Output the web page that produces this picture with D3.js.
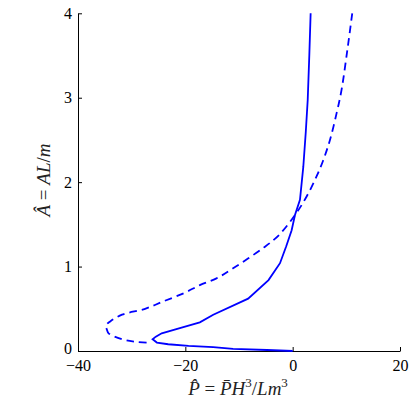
<!DOCTYPE html>
<html><head><meta charset="utf-8">
<script src="https://cdn.jsdelivr.net/npm/d3@7"></script>
</head><body style="margin:0">
<svg id="c" width="415" height="415" font-family="Liberation Serif"></svg>
<script>
// Data: [P, A]
const solidP = [0,-4.8,-11.1,-14.8,-19.4,-23.2,-25.3,-26.1,-25.5,-24.4,-20.7,-17.3,-14.8,-8.3,-4.5,-2.36,-1.2,-0.19,0.43,1.36,1.98,2.45,2.8,3.1,3.35];
const solidA = [0,0.012,0.024,0.045,0.06,0.08,0.1,0.14,0.17,0.21,0.276,0.34,0.43,0.62,0.84,1.04,1.24,1.43,1.61,1.79,2.18,2.6,2.97,3.5,4];
const dashedP = [11.1,10.2,9.1,8.2,6.95,5.7,4.47,2.6,0.43,-2.6,-5.5,-11.1,-14.2,-17.3,-20.1,-24,-27.5,-31.8,-34.0,-34.8,-34.6,-34.3,-31.8,-29.4,-27.2];
const dashedA = [4,3.57,3.09,2.82,2.5,2.26,2.07,1.83,1.61,1.37,1.22,0.98,0.86,0.78,0.69,0.59,0.5,0.43,0.35,0.3,0.25,0.21,0.14,0.11,0.098];
const xTicks = [-40,-20,0,20];
const yTicks = [0,1,2,3,4];

const svg = d3.select("#c");
const L = 78, R = 400, T = 13.3, B = 351;
const x = d3.scaleLinear().domain([-40,20]).range([L,R]);
const y = d3.scaleLinear().domain([0,4]).range([B,T]);

const FF = "Liberation Serif";

// axes
const gx = svg.append("g").attr("transform",`translate(0,${B})`)
  .call(d3.axisBottom(x).tickValues(xTicks).tickSizeInner(-4).tickSizeOuter(0).tickPadding(9)
    .tickFormat(d => d < 0 ? "\u2212" + Math.abs(d) : String(d)));
const gy = svg.append("g").attr("transform",`translate(${L},0)`)
  .call(d3.axisLeft(y).tickValues(yTicks).tickFormat(d3.format("d")).tickSizeInner(-4).tickSizeOuter(0).tickPadding(6));
[gx,gy].forEach(g => {
  g.attr("font-family", FF).attr("font-size", 16);
  g.select(".domain").attr("stroke","#000").attr("stroke-width",1);
  g.selectAll(".tick line").attr("stroke","#000");
  g.selectAll("text").attr("fill","#000");
});
gx.selectAll(".tick text").attr("dy","0.71em");
gy.selectAll(".tick text").filter(d => d === 0).attr("dy","0.15em");

const solid = solidP.map((p,i)=>[p,solidA[i]]);
const dashed = dashedP.map((p,i)=>[p,dashedA[i]]);

svg.append("path").datum(solid)
  .attr("d", d3.line().x(d=>x(d[0])).y(d=>y(d[1])))
  .attr("fill","none").attr("stroke","#0000ff").attr("stroke-width",1.8);
svg.append("path").datum(dashed)
  .attr("d", d3.line().curve(d3.curveCatmullRom.alpha(0.5)).x(d=>x(d[0])).y(d=>y(d[1])))
  .attr("fill","none").attr("stroke","#0000ff").attr("stroke-width",1.8)
  .attr("stroke-dasharray","7.5,5");

// x title
const xt = svg.append("text").attr("x",238).attr("y",395).attr("text-anchor","middle")
  .attr("font-size",19).attr("fill","#222");
xt.append("tspan").attr("font-style","italic").text("P\u0302");
xt.append("tspan").text(" = ");
xt.append("tspan").attr("font-style","italic").text("P\u0304H");
xt.append("tspan").attr("font-size",13).attr("dy",-8).text("3");
xt.append("tspan").attr("dy",8).text("/");
xt.append("tspan").attr("font-style","italic").text("Lm");
xt.append("tspan").attr("font-size",13).attr("dy",-8).text("3");

// y title
const yt = svg.append("text").attr("transform",`translate(50,180) rotate(-90)`)
  .attr("text-anchor","middle").attr("font-size",19).attr("fill","#222");
yt.append("tspan").attr("font-style","italic").text("A\u0302");
yt.append("tspan").text(" = ");
yt.append("tspan").attr("font-style","italic").text("AL");
yt.append("tspan").text("/");
yt.append("tspan").attr("font-style","italic").text("m");

svg.selectAll("text").style("font-family", '"Liberation Serif", "Times New Roman", serif');
</script>
</body></html>
